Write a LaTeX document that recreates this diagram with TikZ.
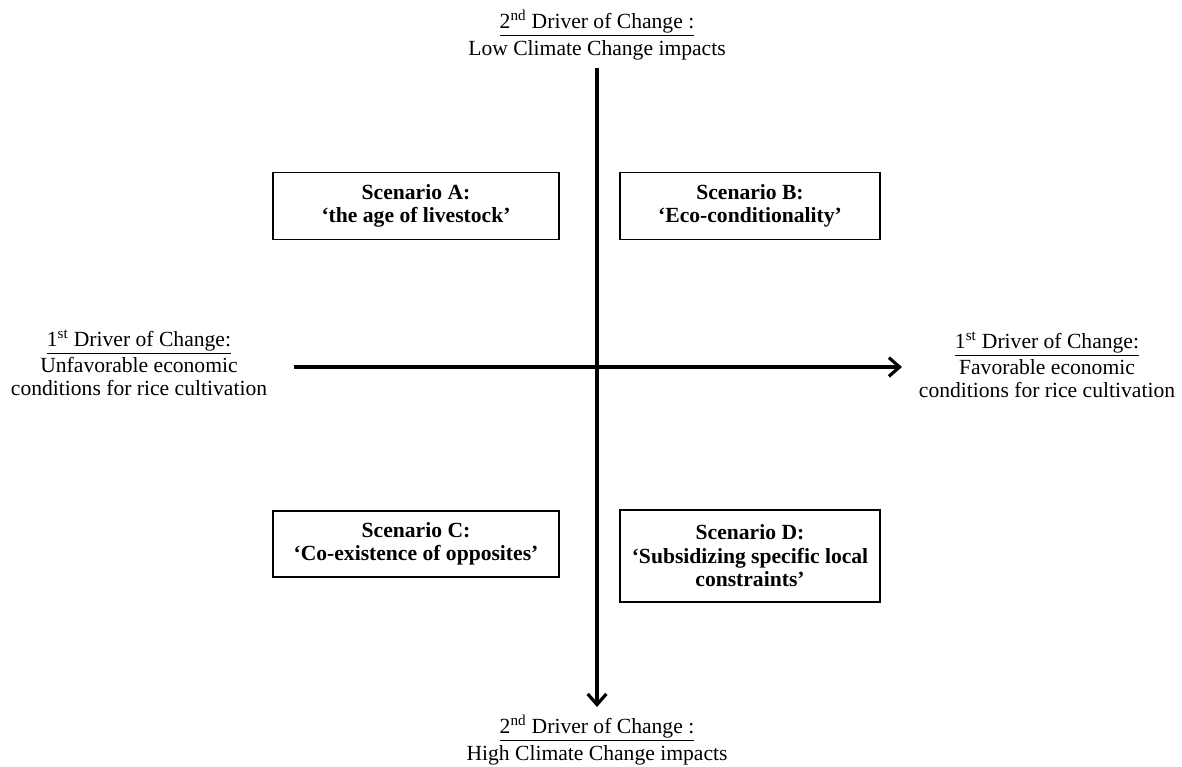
\documentclass[tikz,border=0pt]{standalone}
\usepackage{fontspec}
\setmainfont{Liberation Serif}
\usetikzlibrary{arrows.meta}

\begin{document}
\begin{tikzpicture}[x=0.75pt,y=-0.75pt,
    axis/.style={draw,line width=2.4pt,-{Straight Barb[length=8pt,width=14pt,line width=2.4pt]}}]

      \useasboundingbox (0,0) rectangle (1182,767);

      \begin{scope}[every node/.style={align=center,font=\fontsize{16.2}{19.5}\selectfont}]
        \node (top)    at (597,35)   {\underline{2\textsuperscript{nd} Driver of Change :}\\[1pt]Low Climate Change impacts};
        \node (bottom) at (597,740)  {\underline{2\textsuperscript{nd} Driver of Change :}\\[1pt]High Climate Change impacts};
      \end{scope}

      \begin{scope}[every node/.style={align=center,font=\fontsize{16.2}{17.4}\selectfont}]
        \node (left)   at (139,363)  {\underline{1\textsuperscript{st} Driver of Change:}\\[2pt]Unfavorable economic\\conditions for rice cultivation};
        \node (right)  at (1047,365) {\underline{1\textsuperscript{st} Driver of Change:}\\[2pt]Favorable economic\\conditions for rice cultivation};
      \end{scope}

      \coordinate (w) at (294,367);
      \coordinate (e) at (902,367);
      \coordinate (n) at (597,68);
      \coordinate (s) at (597,707);

      \path[axis] (w) -- (e);
      \path[axis] (n) -- (s);

      \begin{scope}[every node/.style={draw,line width=1.2pt,align=center,
          font=\fontsize{16.2}{17.6}\selectfont\bfseries,inner sep=2pt}]
        \node[minimum width=214.5pt,minimum height=50.25pt] (A) at (416,206) {Scenario A:\\`the age of livestock'};
        \node[minimum width=195pt,minimum height=50.25pt]   (B) at (750,206) {Scenario B:\\`Eco-conditionality'};
        \node[minimum width=214.5pt,minimum height=49.5pt]  (C) at (416,544) {Scenario C:\\`Co-existence of opposites'};
        \node[minimum width=195pt,minimum height=69pt]      (D) at (750,556) {Scenario D:\\`Subsidizing specific local\\constraints'};
      \end{scope}

    \end{tikzpicture}
\end{document}
